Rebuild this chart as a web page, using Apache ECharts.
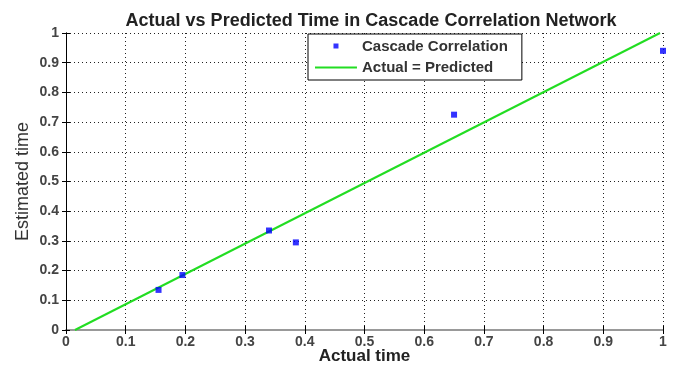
<!DOCTYPE html>
<html><head><meta charset="utf-8">
<script src="https://cdn.jsdelivr.net/npm/echarts@6/dist/echarts.min.js"></script>
<style>html,body{margin:0;padding:0;background:#fff}#c{width:673px;height:366px}</style>
</head><body><div id="c"></div>
<script>
const actual = [0.155, 0.195, 0.34, 0.385, 0.65, 1.0];
const estimated = [0.135, 0.185, 0.335, 0.295, 0.725, 0.94];
const lineX = [0.015, 0.995];
const lineY = [0, 1];
const ticks = [0, 0.1, 0.2, 0.3, 0.4, 0.5, 0.6, 0.7, 0.8, 0.9, 1];

const fmt = v => (v === 0 ? '0' : v === 1 ? '1' : String(+v.toFixed(1)));
const font = 'Liberation Sans, Arial, sans-serif';
const chart = echarts.init(document.getElementById('c'));
const gridStyle = {show: true, lineStyle: {color: '#222', type: [1, 3], width: 1}};
const sqIcon = 'path://M0,0h0.01v0.01h-0.01z M42,10h0.01v0.01h-0.01z M18.5,2h5v5h-5z';
const lnIcon = 'path://M0,0h0.01v0.01h-0.01z M42,10h0.01v0.01h-0.01z M0,4h42v2h-42z';
chart.setOption({
  animation: false,
  title: {text: 'Actual vs Predicted Time in Cascade Correlation Network', left: 366, textAlign: 'center', top: 7,
    textStyle: {fontFamily: font, fontWeight: 'bold', fontSize: 18, color: '#222'}},
  grid: {left: 66, right: 10, top: 33, bottom: 36, outerBoundsMode: 'none', containLabel: false},
  legend: {orient: 'vertical', left: 308, top: 34, padding: [4, 14, 4, 7], itemGap: 4,
    backgroundColor: '#fff', borderColor: '#000', borderWidth: 1,
    textStyle: {fontFamily: font, fontWeight: 'bold', fontSize: 15, color: '#333', lineHeight: 17},
    data: [
      {name: 'Cascade Correlation', icon: sqIcon, itemStyle: {color: '#0000ff'}},
      {name: 'Actual = Predicted', icon: lnIcon, itemStyle: {color: '#22dd22'}}
    ], itemWidth: 42, itemHeight: 10},
  xAxis: [{type: 'value', min: 0, max: 1, interval: 0.1, name: 'Actual time', nameLocation: 'middle', nameGap: 18,
    nameMoveOverlap: false,
    nameTextStyle: {fontFamily: font, fontWeight: 'bold', fontSize: 17, color: '#222'},
    axisLine: {lineStyle: {color: '#000', width: 1}}, axisTick: {inside: true, length: 4, lineStyle: {color: '#000'}},
    axisLabel: {formatter: fmt, fontFamily: font, fontWeight: 'bold', fontSize: 14, color: '#444', margin: 5},
    splitLine: gridStyle},
   {type: 'value', min: 0, max: 1, interval: 0.1, position: 'top',
    axisLine: {show: true, lineStyle: {color: '#999', width: 2}}, axisTick: {inside: true, length: 4, lineStyle: {color: '#000'}},
    axisLabel: {show: false}, splitLine: {show: false}}],
  yAxis: [{type: 'value', min: 0, max: 1, interval: 0.1, name: 'Estimated time', nameLocation: 'middle', nameGap: 34,
    nameMoveOverlap: false,
    nameTextStyle: {fontFamily: font, fontSize: 18, color: '#333'},
    axisLine: {show: true, lineStyle: {color: '#000', width: 1}}, axisTick: {inside: true, length: 4, lineStyle: {color: '#000'}},
    axisLabel: {formatter: fmt, fontFamily: font, fontWeight: 'bold', fontSize: 14, color: '#444', margin: 7},
    splitLine: gridStyle},
   {type: 'value', min: 0, max: 1, interval: 0.1, position: 'right',
    axisLine: {show: true, lineStyle: {color: '#000', width: 1}}, axisTick: {inside: true, length: 4, lineStyle: {color: '#000'}},
    axisLabel: {show: false}, splitLine: {show: false}}],
  series: [
    {name: 'Actual = Predicted', type: 'line', symbol: 'none', data: lineX.map((x, i) => [x, lineY[i]]),
      lineStyle: {color: '#22dd22', width: 2}, itemStyle: {color: '#22dd22'}, z: 3},
    {name: 'Cascade Correlation', type: 'scatter', symbol: 'rect', symbolSize: 6,
      data: actual.map((x, i) => [x, estimated[i]]), itemStyle: {color: '#0000ff'}, z: 4}
  ]
});
</script></body></html>
